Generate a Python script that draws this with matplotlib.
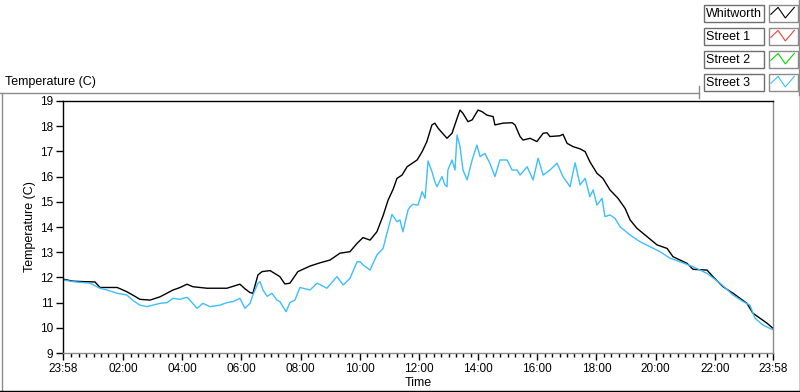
import matplotlib
matplotlib.use("Agg")
import matplotlib.pyplot as plt
import numpy as np

plt.rcParams['font.family'] = ['Liberation Sans', 'DejaVu Sans']

# ---- data (hours since 23:58, temperature in C) ----
whit_t = [0.00, 0.34, 0.74, 1.08, 1.25, 1.59, 1.83, 1.93, 2.16, 2.43, 2.60, 2.94,
          3.28, 3.72, 3.96, 4.19, 4.39, 4.87, 5.54, 5.98, 6.15, 6.32, 6.42, 6.59,
          6.73, 7.00, 7.33, 7.50, 7.67, 7.94, 8.35, 8.69, 9.03, 9.36, 9.70, 9.94,
          10.14, 10.38, 10.61, 10.82, 10.99, 11.16, 11.29, 11.46, 11.63, 11.97,
          12.14, 12.30, 12.47, 12.57, 12.68, 12.98, 13.15, 13.32, 13.42, 13.52,
          13.69, 13.83, 14.03, 14.16, 14.33, 14.54, 14.60, 14.87, 15.18, 15.28,
          15.45, 15.55, 15.79, 16.02, 16.23, 16.36, 16.46, 16.80, 16.90, 17.04,
          17.24, 17.48, 17.65, 17.81, 18.05, 18.25, 18.49, 18.76, 19.00, 19.17,
          19.40, 19.74, 20.08, 20.42, 20.62, 21.09, 21.30, 21.77, 21.97, 22.31,
          22.65, 23.12, 23.32, 23.56, 23.80, 24.00]
whit_v = [11.93, 11.85, 11.83, 11.82, 11.60, 11.60, 11.60, 11.55, 11.43, 11.25, 11.13, 11.10,
          11.23, 11.50, 11.60, 11.73, 11.63, 11.57, 11.57, 11.73, 11.55, 11.40, 11.37, 12.10,
          12.23, 12.27, 12.03, 11.74, 11.77, 12.23, 12.45, 12.58, 12.69, 12.96, 13.02, 13.35,
          13.58, 13.48, 13.81, 14.45, 15.07, 15.50, 15.93, 16.06, 16.39, 16.66,
          16.99, 17.39, 18.05, 18.12, 17.92, 17.52, 17.72, 18.31, 18.64, 18.51,
          18.18, 18.25, 18.64, 18.58, 18.44, 18.38, 18.05, 18.12, 18.14, 18.05,
          17.59, 17.45, 17.52, 17.39, 17.72, 17.74, 17.59, 17.62, 17.68, 17.32,
          17.19, 17.10, 16.99, 16.59, 16.13, 15.93, 15.47, 15.14, 14.74, 14.28,
          13.95, 13.62, 13.29, 13.15, 12.82, 12.56, 12.32, 12.29, 12.03, 11.63,
          11.37, 10.97, 10.58, 10.38, 10.18, 9.98]

st3_t = [0.00, 0.34, 0.91, 1.25, 1.49, 1.83, 2.16, 2.37, 2.60, 2.84, 3.04, 3.28,
         3.52, 3.72, 3.96, 4.19, 4.29, 4.53, 4.73, 4.97, 5.31, 5.54, 5.75, 5.98,
         6.15, 6.32, 6.42, 6.59, 6.66, 6.76, 6.90, 7.06, 7.23, 7.33, 7.54, 7.67,
         7.84, 8.01, 8.35, 8.59, 8.92, 9.26, 9.47, 9.70, 9.94, 10.04, 10.14, 10.38,
         10.61, 10.82, 10.95, 11.12, 11.29, 11.39, 11.49, 11.66, 11.73, 11.83, 12.00,
         12.14, 12.24, 12.34, 12.47, 12.57, 12.64, 12.81, 12.91, 12.98, 13.01, 13.15,
         13.25, 13.32, 13.42, 13.52, 13.66, 13.83, 13.99, 14.10, 14.26, 14.43, 14.60,
         14.77, 15.01, 15.18, 15.35, 15.45, 15.69, 15.89, 16.06, 16.23, 16.46, 16.70,
         16.90, 17.14, 17.31, 17.48, 17.65, 17.81, 17.92, 18.05, 18.22, 18.32, 18.49,
         18.66, 18.83, 19.17, 19.50, 19.84, 20.18, 20.52, 20.86, 21.30, 21.77, 22.21,
         22.65, 22.99, 23.22, 23.39, 23.66, 24.00]
st3_v = [11.90, 11.83, 11.77, 11.57, 11.50, 11.37, 11.30, 11.08, 10.90, 10.84, 10.90, 10.97,
         11.00, 11.17, 11.13, 11.21, 11.10, 10.77, 10.97, 10.84, 10.90, 11.00, 11.04, 11.17,
         10.77, 10.97, 11.30, 11.77, 11.83, 11.50, 11.25, 11.37, 11.10, 11.04, 10.64, 11.00,
         11.10, 11.60, 11.50, 11.77, 11.57, 12.03, 11.70, 11.96, 12.62, 12.62, 12.50, 12.29,
         12.89, 13.15, 13.75, 14.50, 14.21, 14.28, 13.81, 14.67, 14.80, 14.90, 14.87,
         15.40, 15.14, 16.62, 16.20, 15.80, 15.60, 16.00, 15.67, 15.60, 16.26, 16.66,
         16.26, 17.65, 17.19, 16.26, 15.87, 16.66, 17.25, 16.79, 16.92, 16.53, 16.00,
         16.66, 16.66, 16.26, 16.26, 16.06, 16.39, 15.87, 16.73, 16.06, 16.26, 16.53,
         16.00, 15.60, 16.55, 15.67, 15.93, 15.20, 15.47, 14.87, 15.14, 14.41, 14.48,
         14.34, 14.01, 13.68, 13.42, 13.22, 13.02, 12.76, 12.62, 12.42, 12.16, 11.77,
         11.30, 11.04, 10.90, 10.38, 10.11, 9.92]

x_tick_pos = [0.0, 2.0333, 4.0333, 6.0333, 8.0333, 10.0333, 12.0333, 14.0333,
              16.0333, 18.0333, 20.0333, 22.0333, 24.0]
x_tick_lbl = ["23:58", "02:00", "04:00", "06:00", "08:00", "10:00", "12:00", "14:00",
              "16:00", "18:00", "20:00", "22:00", "23:58"]
y_ticks = [9, 10, 11, 12, 13, 14, 15, 16, 17, 18, 19]

legend_names = ["Whitworth", "Street 1", "Street 2", "Street 3"]
legend_colors = ["#000000", "#FF3C3C", "#00DC00", "#3CBEFF"]

W, H = 800, 392
fig = plt.figure(figsize=(W / 100, H / 100), dpi=100)
fig.patch.set_facecolor("white")

# overlay in pixel coordinates for frame & legend
ov = fig.add_axes([0, 0, 1, 1])
ov.set_xlim(0, W)
ov.set_ylim(H, 0)
ov.axis("off")

gray = "#8C8C8C"
# frame of the graph panel
ov.plot([0, 698.5], [92.5, 92.5], color=gray, lw=1)
ov.plot([1.5, 1.5], [92.5, 390.5], color=gray, lw=1)
ov.plot([0, 800], [390.5, 390.5], color="black", lw=1)
ov.plot([799.5, 799.5], [95, 391], color="black", lw=1)
ov.plot([798.5, 798.5], [0, 95], color=gray, lw=1)
ov.plot([698.5, 698.5], [86, 98], color=gray, lw=1)

# plot legend
zx = [0.08, 0.33, 0.58, 0.89]
zy = [0.42, 0.83, 0.21, 0.83]
for i, (name, col) in enumerate(zip(legend_names, legend_colors)):
    top = 4.5 + i * 23
    h = 17
    ov.add_patch(plt.Rectangle((703.5, top), 60, h, facecolor="white",
                               edgecolor="#6E6E6E", lw=1))
    ov.text(706, top + h / 2 + 0.5, name, fontsize=9, va="center", ha="left",
            color="black")
    ov.add_patch(plt.Rectangle((768.5, top), 29, h, facecolor="white",
                               edgecolor=gray, lw=1))
    ov.plot([768.5 + 29 * a for a in zx], [top + h - h * b for b in zy],
            color=col, lw=0.8)

ov.text(5, 82, "Temperature (C)", fontsize=9, va="center", ha="left")

# main axes
ax = fig.add_axes([63 / W, (H - 353) / H, 710 / W, 252 / H])
ax.plot(whit_t, whit_v, color="black", lw=1.0)
ax.plot(st3_t, st3_v, color="#3CBEFF", lw=1.0)
ax.set_xlim(0, 24)
ax.set_ylim(9, 19)

ax.set_xticks(x_tick_pos)
ax.set_xticklabels(x_tick_lbl)
minor = np.arange(x_tick_pos[1] - 2, 24.0, 0.25)
minor = minor[(minor > 0.05) & (minor < 23.95)]
ax.set_xticks(minor, minor=True)
ax.set_yticks(y_ticks)
ax.tick_params(axis="x", which="major", length=5, width=1, direction="out",
               labelsize=8.5, pad=2, color="black")
ax.tick_params(axis="x", which="minor", length=3, width=1, direction="out",
               color="black")
ax.tick_params(axis="y", which="major", length=5, width=1, direction="out",
               labelsize=8.5, pad=2, color="black")
for s in ["left", "top"]:
    ax.spines[s].set_color("black")
for s in ["right", "bottom"]:
    ax.spines[s].set_color(gray)
for s in ax.spines.values():
    s.set_linewidth(1)

ax.set_xlabel("Time", fontsize=9, labelpad=2)
ax.set_ylabel("Temperature (C)", fontsize=9, labelpad=3)

fig.savefig("out.png", dpi=100, facecolor="white")
